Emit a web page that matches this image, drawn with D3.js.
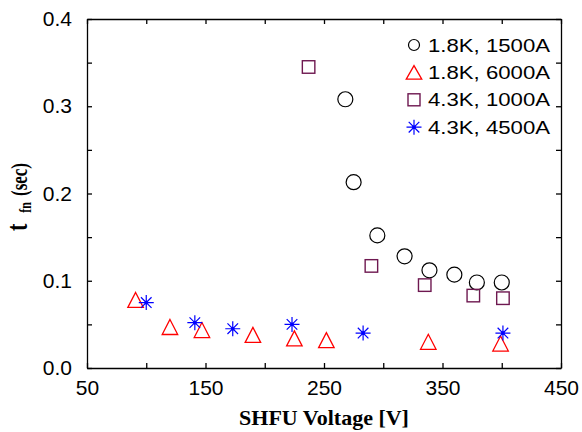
<!DOCTYPE html>
<html>
<head>
<meta charset="utf-8">
<script src="https://cdn.jsdelivr.net/npm/d3@7"></script>
<style>
  body { margin: 0; background: #fff; }
  .tick text { font-family: "Liberation Sans", Arial, sans-serif; font-size: 21px; fill: #000; }
  .axis path, .axis line { stroke: #000; stroke-width: 1.3px; }
  .title { font-family: "Liberation Serif", "Times New Roman", serif; font-weight: bold; font-size: 22px; }
  .legend text { font-family: "Liberation Sans", Arial, sans-serif; font-size: 19px; }
</style>
</head>
<body>
<svg id="chart"></svg>
<script>
// series data: SHFU voltage [V] vs t_fn [sec]
const series = ["1.8K, 1500A", "1.8K, 6000A", "4.3K, 1000A", "4.3K, 4500A"];
const v15 = [268, 275, 295, 318, 339, 360, 379, 400];
const t15 = [0.308, 0.213, 0.152, 0.128, 0.112, 0.107, 0.098, 0.098];
const v60 = [91, 120, 147, 190, 225, 252, 338, 399];
const t60 = [0.078, 0.047, 0.0435, 0.038, 0.034, 0.032, 0.030, 0.028];
const v10 = [237, 290, 335, 376, 401];
const t10 = [0.345, 0.117, 0.095, 0.083, 0.080];
const v45 = [100, 141, 173, 223, 283, 401];
const t45 = [0.075, 0.052, 0.045, 0.050, 0.040, 0.040];
const xTicks = [50, 100, 150, 200, 250, 300, 350, 400, 450];
const yTicks = [0, 0.05, 0.1, 0.15, 0.2, 0.25, 0.3, 0.35, 0.4];

const width = 582;
const height = 432;
const margin = { top: 19, right: 21, bottom: 64, left: 87 };

const svg = d3.select("#chart")
  .attr("width", width)
  .attr("height", height);

const xScale = d3.scaleLinear()
  .domain([50, 450])
  .range([margin.left, width - margin.right]);

const yScale = d3.scaleLinear()
  .domain([0, 0.4])
  .range([height - margin.bottom, margin.top]);

// axes, ticks pointing inward, box on all four sides
const xLabel = d => (d - 50) % 100 === 0 ? d : "";
const yLabel = d => Math.round(d * 100) % 10 === 0 ? d.toFixed(1) : "";

svg.append("g").attr("class", "axis")
  .attr("transform", `translate(0, ${height - margin.bottom})`)
  .call(d3.axisBottom(xScale).tickValues(xTicks).tickSize(-5).tickSizeOuter(0).tickPadding(12).tickFormat(xLabel));

svg.append("g").attr("class", "axis")
  .attr("transform", `translate(0, ${margin.top})`)
  .call(d3.axisTop(xScale).tickValues(xTicks).tickSize(-5).tickSizeOuter(0).tickFormat(""));

svg.append("g").attr("class", "axis")
  .attr("transform", `translate(${margin.left}, 0)`)
  .call(d3.axisLeft(yScale).tickValues(yTicks).tickSize(-5).tickSizeOuter(0).tickPadding(15).tickFormat(yLabel));

svg.append("g").attr("class", "axis")
  .attr("transform", `translate(${width - margin.right}, 0)`)
  .call(d3.axisRight(yScale).tickValues(yTicks).tickSize(-5).tickSizeOuter(0).tickFormat(""));

// marker shapes
function circle(g, r, color) {
  g.append("circle").attr("r", r).attr("fill", "none").attr("stroke", color).attr("stroke-width", 1.2);
}
function triangle(g, w, h, color) {
  g.append("path")
    .attr("d", `M0,${-h / 2}L${w / 2},${h / 2}L${-w / 2},${h / 2}Z`)
    .attr("fill", "none").attr("stroke", color).attr("stroke-width", 1.3);
}
function square(g, s, color) {
  g.append("rect").attr("x", -s / 2).attr("y", -s / 2).attr("width", s).attr("height", s)
    .attr("fill", "none").attr("stroke", color).attr("stroke-width", 1.4);
}
function star(g, r, color) {
  const d = r * Math.SQRT1_2;
  g.append("path")
    .attr("d", `M${-r},0H${r}M0,${-r}V${r}M${-d},${-d}L${d},${d}M${-d},${d}L${d},${-d}`)
    .attr("stroke", color).attr("stroke-width", 1.2);
  g.append("circle").attr("r", 1.8).attr("fill", color);
}

const styles = [
  { xs: v15, ys: t15, draw: g => circle(g, 7.5, "#000"), legend: g => circle(g, 5.5, "#000") },
  { xs: v60, ys: t60, draw: g => triangle(g, 15.5, 15, "#ff0000"), legend: g => triangle(g, 15.5, 13.5, "#ff0000") },
  { xs: v10, ys: t10, draw: g => square(g, 12.5, "#6e1850"), legend: g => square(g, 12, "#6e1850") },
  { xs: v45, ys: t45, draw: g => star(g, 7.5, "#0000ff"), legend: g => star(g, 7.5, "#0000ff") }
];

styles.forEach(s => {
  svg.append("g")
    .selectAll("g")
    .data(s.xs.map((v, i) => [v, s.ys[i]]))
    .enter()
    .append("g")
    .attr("transform", d => `translate(${xScale(d[0])}, ${yScale(d[1])})`)
    .each(function () { s.draw(d3.select(this)); });
});

// legend
const legend = svg.append("g").attr("class", "legend");
series.forEach((name, i) => {
  const row = legend.append("g").attr("transform", `translate(414, ${45 + i * 27.4})`);
  styles[i].legend(row);
  row.append("text").attr("x", 14).attr("y", 6.5).attr("textLength", 122)
    .attr("lengthAdjust", "spacingAndGlyphs").text(name);
});

// axis titles
svg.append("text")
  .attr("class", "title")
  .attr("x", (margin.left + width - margin.right) / 2)
  .attr("y", 425)
  .attr("text-anchor", "middle")
  .text("SHFU Voltage [V]");

const yTitle = svg.append("text")
  .attr("class", "title")
  .attr("transform", "translate(27, 231) scale(1.35, 1) rotate(-90)")
  .attr("text-anchor", "start");
yTitle.append("tspan").attr("font-size", 22).text("t");
yTitle.append("tspan").attr("font-size", 12).attr("dy", 3).attr("dx", 11).text("fn");
yTitle.append("tspan").attr("font-size", 17).attr("dy", -3).attr("dx", 6).text("(sec)");
</script>
</body>
</html>
